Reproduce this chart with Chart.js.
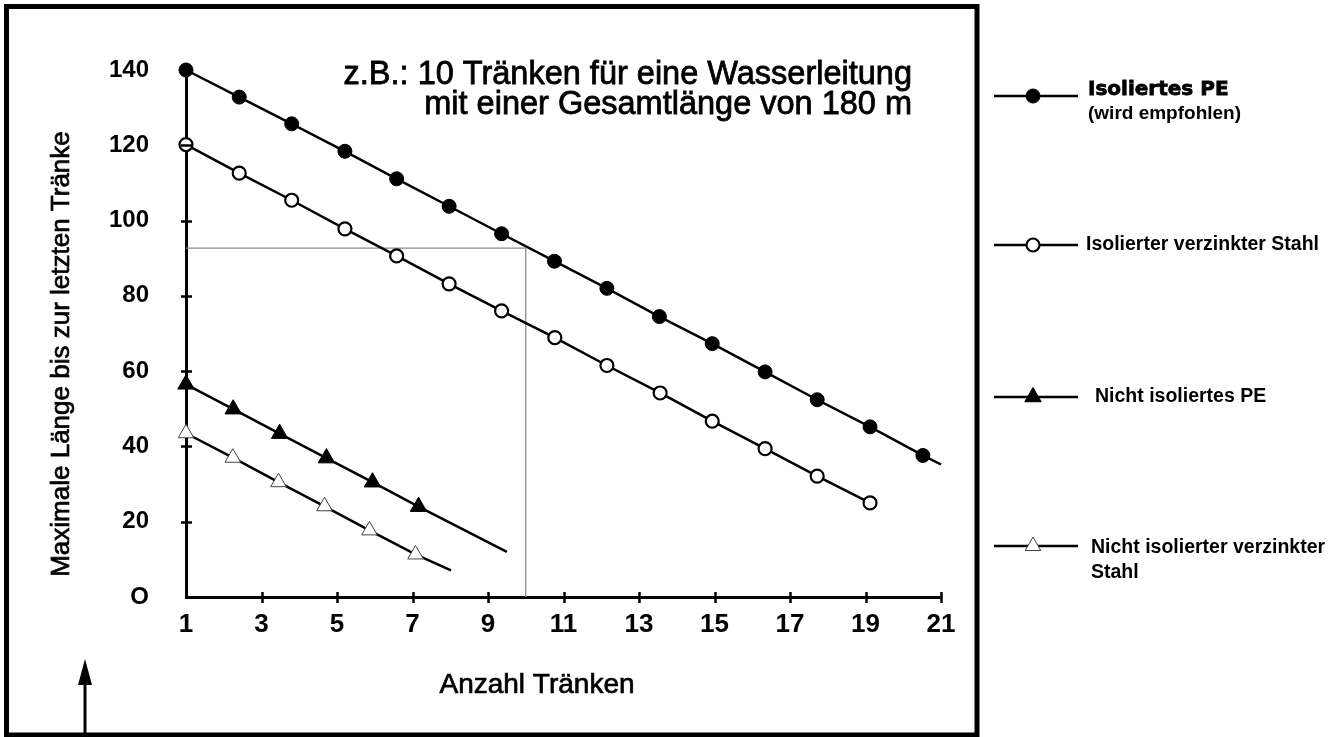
<!DOCTYPE html>
<html>
<head>
<meta charset="utf-8">
<script src="https://cdn.jsdelivr.net/npm/chart.js@4.4.0/dist/chart.umd.min.js"></script>
<style>
  html, body { margin: 0; padding: 0; background: #fff; }
</style>
</head>
<body>
<canvas id="chart" width="1329" height="737"></canvas>
<script>
// ------------------------------------------------------------
// Werte
// ------------------------------------------------------------
const xTicks      = [1, 3, 5, 7, 9, 11, 13, 15, 17, 19, 21];
const yTicks      = [0, 20, 40, 60, 80, 100, 120, 140];
const yTickLabels = ["O", "20", "40", "60", "80", "100", "120", "140"];

// Isoliertes PE (wird empfohlen)
const peIsoX   = [1, 2.41, 3.80, 5.21, 6.58, 7.97, 9.36, 10.76, 12.15, 13.54, 14.94, 16.34, 17.72, 19.12, 20.52];
const peIsoY   = [140, 132.8, 125.7, 118.4, 111.1, 103.8, 96.5, 89.2, 82.0, 74.5, 67.3, 59.8, 52.4, 45.2, 37.6];
const peIsoEnd = [21, 35.2];

// Isolierter verzinkter Stahl
const stIsoX = [1, 2.41, 3.80, 5.21, 6.58, 7.97, 9.36, 10.77, 12.15, 13.56, 14.94, 16.34, 17.72, 19.12];
const stIsoY = [120.2, 112.6, 105.4, 97.8, 90.6, 83.2, 76.0, 68.9, 61.5, 54.2, 46.7, 39.4, 32.1, 25.0];

// Nicht isoliertes PE
const peNixX   = [1, 2.25, 3.48, 4.72, 5.94, 7.16];
const peNixY   = [56.5, 49.9, 43.4, 36.9, 30.5, 24.0];
const peNixEnd = [9.5, 12.0];

// Nicht isolierter verzinkter Stahl
const stNixX   = [1, 2.24, 3.45, 4.67, 5.86, 7.08];
const stNixY   = [43.5, 37.0, 30.5, 24.1, 17.7, 11.3];
const stNixEnd = [8.02, 7.1];

// Ablesehilfe: 10 Tränken -> ca. 93 m
const refX = [1, 10, 10];
const refY = [92.7, 92.7, 0];

const legendLabels = [
  ["Isoliertes PE", "(wird empfohlen)"],
  ["Isolierter verzinkter Stahl"],
  ["Nicht isoliertes PE"],
  ["Nicht isolierter verzinkter", "Stahl"],
];
const noteLines = ["z.B.: 10 Tränken für eine Wasserleitung", "mit einer Gesamtlänge von 180 m"];

// ------------------------------------------------------------
// Hilfsfunktionen
// ------------------------------------------------------------
function pts(xs, ys, end) {
  const out = xs.map((x, i) => ({ x, y: ys[i] }));
  if (end) out.push({ x: end[0], y: end[1] });
  return out;
}
function radii(xs, r, end) {
  const out = xs.map(() => r);
  if (end) out.push(0);
  return out;
}
// Text etwas kräftiger, wie im eingescannten Original
function heavyText(ctx, txt, x, y, w) {
  ctx.fillText(txt, x, y);
  ctx.lineWidth = w;
  ctx.strokeText(txt, x, y);
}

const FONT = '"Liberation Sans", Arial, sans-serif';

const datasets = [
  {
    label: "Isoliertes PE",
    data: pts(peIsoX, peIsoY, peIsoEnd),
    pointRadius: radii(peIsoX, 7, peIsoEnd),
    pointStyle: "circle",
    pointBackgroundColor: "#000",
    pointBorderColor: "#000",
    pointBorderWidth: 1,
  },
  {
    label: "Isolierter verzinkter Stahl",
    data: pts(stIsoX, stIsoY),
    pointRadius: radii(stIsoX, 6.5),
    pointStyle: "circle",
    pointBackgroundColor: "#fff",
    pointBorderColor: "#000",
    pointBorderWidth: 2.2,
  },
  {
    label: "Nicht isoliertes PE",
    data: pts(peNixX, peNixY, peNixEnd),
    pointRadius: radii(peNixX, 9.5, peNixEnd),
    pointStyle: "triangle",
    pointBackgroundColor: "#000",
    pointBorderColor: "#000",
    pointBorderWidth: 1,
  },
  {
    label: "Nicht isolierter verzinkter Stahl",
    data: pts(stNixX, stNixY, stNixEnd),
    pointRadius: radii(stNixX, 9, stNixEnd),
    pointStyle: "triangle",
    pointBackgroundColor: "#fff",
    pointBorderColor: "#444",
    pointBorderWidth: 1,
  },
].map(d => Object.assign({
  showLine: true,
  borderColor: "#000",
  borderWidth: 2.5,
  tension: 0,
  clip: false,
  pointHoverRadius: 0,
}, d));

// Graue Hilfslinie zuletzt -> wird zuerst (unten) gezeichnet
datasets.push({
  label: "ref",
  data: pts(refX, refY),
  showLine: true,
  borderColor: "#8a8a8a",
  borderWidth: 1.3,
  pointRadius: 0,
  tension: 0,
});

const legendY  = [96, 245, 397, 546];
const legendTx = [1088, 1086, 1095, 1091];

// ------------------------------------------------------------
// Zusätzliche Zeichnungen: Rahmen, Ticks, Titel, Legende, Pfeil
// ------------------------------------------------------------
const extras = {
  id: "extras",
  afterDraw(chart) {
    const ctx = chart.ctx;
    const xs = chart.scales.x, ys = chart.scales.y;
    ctx.save();
    ctx.strokeStyle = "#000";
    ctx.fillStyle = "#000";

    // Tickstriche quer über die Achsen
    ctx.lineWidth = 2.5;
    const ax = xs.left, ay = ys.bottom;
    yTicks.forEach(v => {
      if (v === 0) return;
      const py = Math.round(ys.getPixelForValue(v)) + 0.5;
      ctx.beginPath(); ctx.moveTo(ax - 5, py); ctx.lineTo(ax + 6, py); ctx.stroke();
    });
    xTicks.forEach(v => {
      if (v === xTicks[0]) return;
      const px = Math.round(xs.getPixelForValue(v)) + 0.5;
      ctx.beginPath(); ctx.moveTo(px, ay - 5); ctx.lineTo(px, ay + 6); ctx.stroke();
    });

    // Rahmen
    ctx.lineWidth = 5;
    ctx.strokeRect(6.5, 6.5, 970.5, 728.5);

    // Pfeil unten links
    ctx.lineWidth = 3;
    ctx.beginPath(); ctx.moveTo(85, 735); ctx.lineTo(85, 680); ctx.stroke();
    ctx.beginPath(); ctx.moveTo(85, 659); ctx.lineTo(78, 685); ctx.lineTo(92, 685); ctx.closePath(); ctx.fill();

    // Hinweis oben rechts
    ctx.textAlign = "right";
    ctx.textBaseline = "middle";
    ctx.font = "32.5px " + FONT;
    heavyText(ctx, noteLines[0], 912, 75, 0.8);
    heavyText(ctx, noteLines[1], 912, 105, 0.8);

    // Achsentitel
    ctx.textAlign = "center";
    ctx.font = "28px " + FONT;
    heavyText(ctx, "Anzahl Tränken", 537, 685, 0.7);
    ctx.save();
    ctx.translate(62, 354);
    ctx.rotate(-Math.PI / 2);
    ctx.font = "26px " + FONT;
    heavyText(ctx, "Maximale Länge bis zur letzten Tränke", 0, 0, 0.7);
    ctx.restore();

    // Legende
    chart.data.datasets.slice(0, 4).forEach((ds, i) => {
      const y = legendY[i];
      ctx.strokeStyle = "#000";
      ctx.lineWidth = 2.5;
      ctx.beginPath(); ctx.moveTo(994, y); ctx.lineTo(1078, y); ctx.stroke();
      ctx.fillStyle = ds.pointBackgroundColor;
      ctx.strokeStyle = ds.pointBorderColor;
      ctx.lineWidth = ds.pointBorderWidth;
      Chart.helpers.drawPoint(ctx, {
        pointStyle: ds.pointStyle,
        radius: ds.pointRadius[0],
        rotation: 0,
        borderWidth: ds.pointBorderWidth,
      }, 1033, y);

      ctx.fillStyle = "#000";
      ctx.strokeStyle = "#000";
      ctx.textAlign = "left";
      ctx.textBaseline = "middle";
      const lines = legendLabels[i];
      if (lines.length === 1) {
        ctx.font = "bold 19.5px " + FONT;
        ctx.fillText(lines[0], legendTx[i], y);
      } else if (i === 0) {
        ctx.font = 'bold 20px "DejaVu Sans", sans-serif';
        heavyText(ctx, lines[0], legendTx[i], y - 6, 0.8);
        ctx.font = "bold 19px " + FONT;
        ctx.fillText(lines[1], legendTx[i], y + 18);
      } else {
        ctx.font = "bold 19.5px " + FONT;
        ctx.fillText(lines[0], legendTx[i], y + 2);
        ctx.fillText(lines[1], legendTx[i], y + 27);
      }
    });
    ctx.restore();
  }
};

new Chart(document.getElementById("chart"), {
  type: "scatter",
  data: { datasets },
  plugins: [extras],
  options: {
    responsive: false,
    animation: false,
    events: [],
    layout: { padding: { left: 0, top: 70, right: 388, bottom: 0 } },
    plugins: { legend: { display: false }, tooltip: { enabled: false } },
    scales: {
      x: {
        type: "linear",
        min: 1, max: 21,
        afterBuildTicks: s => { s.ticks = xTicks.map(v => ({ value: v })); },
        afterFit: s => { s.height = 140; },
        grid: { display: false, drawTicks: false },
        border: { display: true, color: "#000", width: 3 },
        ticks: {
          color: "#000",
          font: { family: FONT, size: 26, weight: "bold" },
          padding: 12,
          maxRotation: 0,
          autoSkip: false,
        },
      },
      y: {
        type: "linear",
        min: 0, max: 140,
        afterBuildTicks: s => { s.ticks = yTicks.map(v => ({ value: v })); },
        afterFit: s => { s.width = 186; },
        grid: { display: false, drawTicks: false },
        border: { display: true, color: "#000", width: 3 },
        ticks: {
          color: "#000",
          font: { family: FONT, size: 24, weight: "bold" },
          padding: 37,
          callback: (v, i) => yTickLabels[i],
        },
      },
    },
  },
});
</script>
</body>
</html>
